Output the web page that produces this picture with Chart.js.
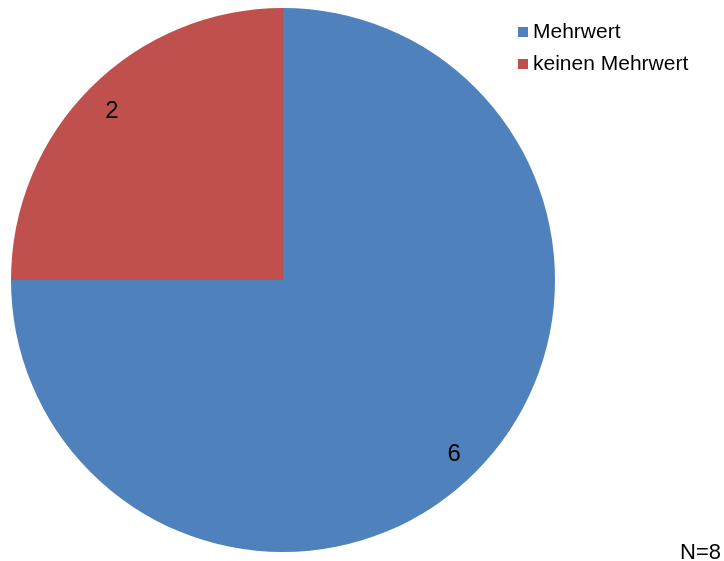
<!DOCTYPE html>
<html>
<head>
<meta charset="utf-8">
<script src="https://cdn.jsdelivr.net/npm/chart.js@4/dist/chart.umd.min.js"></script>
<style>
  html, body { margin: 0; padding: 0; background: #fff; }
  #wrap { width: 724px; height: 561px; position: relative; }
</style>
</head>
<body>
<div id="wrap"><canvas id="pieChart" width="724" height="561"></canvas></div>
<script>
const categories = ['Mehrwert', 'keinen Mehrwert'];
const counts = [6, 2];
const colors = ['#4F81BD', '#C0504D'];
const sampleNote = 'N=8';

// value labels inside slices, legend top right, N note bottom right
const pieExtras = {
    id: 'pieExtras',
    afterDraw(chart) {
        const ctx = chart.ctx;
        const meta = chart.getDatasetMeta(0);
        ctx.save();
        ctx.fillStyle = '#000';
        ctx.font = '24px "Liberation Sans", Arial, sans-serif';
        ctx.textAlign = 'center';
        ctx.textBaseline = 'middle';
        meta.data.forEach((arc, i) => {
            const mid = (arc.startAngle + arc.endAngle) / 2;
            const r = arc.outerRadius * 0.89;
            ctx.fillText(String(counts[i]), arc.x + Math.cos(mid) * r, arc.y + Math.sin(mid) * r + 3);
        });

        ctx.font = '21px "Liberation Sans", Arial, sans-serif';
        ctx.textAlign = 'left';
        categories.forEach((name, i) => {
            const y = 32 + i * 32;
            ctx.fillStyle = colors[i];
            ctx.fillRect(518, y - 5, 10, 10);
            ctx.fillStyle = '#000';
            ctx.fillText(name, 533, y);
        });

        ctx.font = '22px "Liberation Sans", Arial, sans-serif';
        ctx.textBaseline = 'alphabetic';
        ctx.fillText(sampleNote, 680, 559);
        ctx.restore();
    }
};

new Chart(document.getElementById('pieChart').getContext('2d'), {
    type: 'pie',
    data: {
        labels: categories,
        datasets: [{
            data: counts,
            backgroundColor: colors,
            borderWidth: 0
        }]
    },
    options: {
        responsive: false,
        animation: false,
        layout: { padding: { left: 11, right: 169, top: 8, bottom: 9 } },
        plugins: {
            legend: { display: false },
            tooltip: { enabled: false }
        }
    },
    plugins: [pieExtras]
});
</script>
</body>
</html>
